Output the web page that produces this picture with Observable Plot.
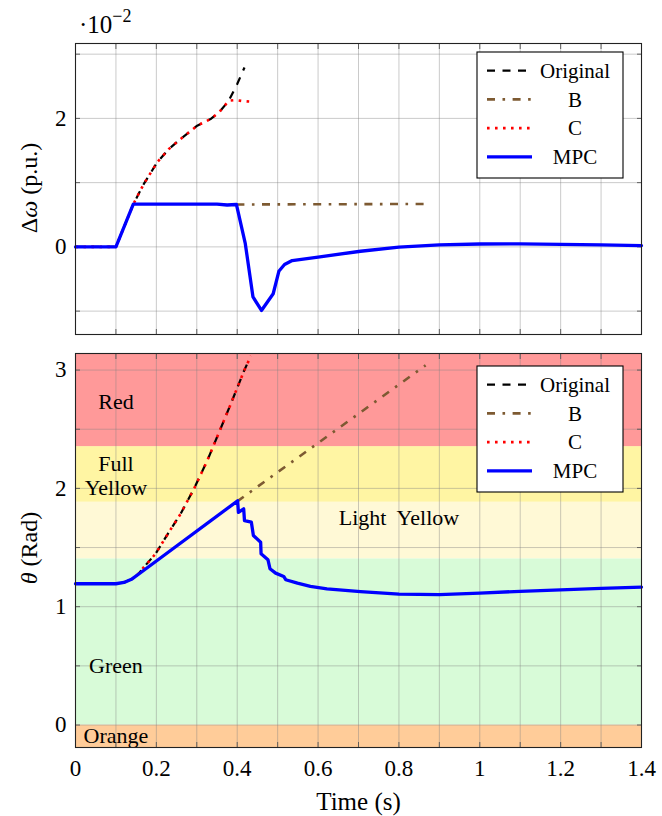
<!DOCTYPE html>
<html>
<head>
<meta charset="utf-8">
<script src="https://cdn.jsdelivr.net/npm/d3@7"></script>
<script src="https://cdn.jsdelivr.net/npm/@observablehq/plot@0.6"></script>
<style>
  html, body { margin: 0; padding: 0; background: white; }
  #chart { position: relative; width: 662px; }
  #chart svg { display: block; }
  #chart svg, #chart svg text, #chart svg tspan { font-family: "Liberation Serif", "Times New Roman", "DejaVu Serif", serif !important; }
</style>
</head>
<body>
<div id="chart"></div>
<script>
// ---------- Data ----------
// Top panel: Δω in units of 1e-2 p.u.
const mpcTopT = [0, 0.1, 0.143, 0.2, 0.3, 0.35, 0.375, 0.398, 0.42, 0.439, 0.46, 0.489, 0.503, 0.517, 0.536, 0.6, 0.705, 0.8, 0.9, 1.0, 1.1, 1.2, 1.3, 1.4];
const mpcTopV = [0, 0, 0.665, 0.665, 0.665, 0.665, 0.652, 0.66, 0.05, -0.78, -0.99, -0.73, -0.38, -0.275, -0.213, -0.16, -0.068, -0.005, 0.03, 0.045, 0.047, 0.04, 0.03, 0.02];
const origTopT = [0, 0.1, 0.143, 0.169, 0.202, 0.231, 0.26, 0.301, 0.334, 0.355, 0.379, 0.4, 0.418];
const origTopV = [0, 0, 0.665, 0.98, 1.316, 1.524, 1.68, 1.886, 1.99, 2.093, 2.275, 2.535, 2.793];
const cTopT = [0, 0.1, 0.143, 0.169, 0.202, 0.231, 0.26, 0.301, 0.334, 0.355, 0.379, 0.396, 0.413, 0.434];
const cTopV = [0, 0, 0.665, 0.98, 1.316, 1.524, 1.68, 1.886, 1.99, 2.093, 2.275, 2.286, 2.27, 2.26];
const bTopT = [0.398, 0.878];
const bTopV = [0.66, 0.668];

// Bottom panel: θ (rad)
const mpcBotT = [0, 0.1, 0.12, 0.14, 0.16, 0.401, 0.403, 0.416, 0.418, 0.435, 0.44, 0.458, 0.459, 0.476, 0.481, 0.495, 0.515, 0.52, 0.549, 0.581, 0.622, 0.705, 0.8, 0.9, 1.0, 1.1, 1.2, 1.3, 1.4];
const mpcBotV = [1.194, 1.194, 1.205, 1.235, 1.285, 1.895, 1.798, 1.827, 1.728, 1.714, 1.602, 1.545, 1.447, 1.397, 1.321, 1.284, 1.256, 1.228, 1.199, 1.171, 1.15, 1.128, 1.106, 1.102, 1.115, 1.13, 1.143, 1.155, 1.166];
const origBotT = [0, 0.1, 0.12, 0.14, 0.155, 0.169, 0.198, 0.231, 0.26, 0.293, 0.326, 0.355, 0.384, 0.417, 0.431];
const origBotV = [1.194, 1.194, 1.205, 1.235, 1.275, 1.334, 1.447, 1.63, 1.785, 1.996, 2.235, 2.473, 2.713, 2.994, 3.101];
const cBotT = [0, 0.1, 0.12, 0.14, 0.155, 0.169, 0.198, 0.231, 0.26, 0.293, 0.326, 0.355, 0.384, 0.417, 0.434];
const cBotV = [1.194, 1.194, 1.205, 1.235, 1.275, 1.334, 1.447, 1.63, 1.785, 1.996, 2.235, 2.473, 2.713, 2.994, 3.12];
const bBotT = [0.4, 0.866];
const bBotV = [1.89, 3.04];

// Stability bands (bottom panel)
const bandNames  = ["Orange", "Green", "Light Yellow", "Full Yellow", "Red"];
const bandLow    = [-0.19, 0, 1.405, 1.883, 2.353];
const bandHigh   = [0, 1.405, 1.883, 2.353, 3.14];
const bandColors = ["#ffcc99", "#d8fbd8", "#fff9d6", "#fff5a3", "#ff9999"];
const bandLabelText = ["Orange", "Green", "Light  Yellow", "Full\nYellow", "Red"];
const bandLabelX = [0.1, 0.1, 0.8, 0.1, 0.1];
const bandLabelY = [-0.086, 0.505, 1.754, 2.112, 2.733];

// Ticks
const xGrid = [0, 0.1, 0.2, 0.3, 0.4, 0.5, 0.6, 0.7, 0.8, 0.9, 1.0, 1.1, 1.2, 1.3, 1.4];
const xTicks = [0, 0.2, 0.4, 0.6, 0.8, 1.0, 1.2, 1.4];
const xTickLabels = ["0", "0.2", "0.4", "0.6", "0.8", "1", "1.2", "1.4"];
const topYGrid = [-1, 0, 1, 2, 3];
const topYTicks = [0, 2];
const botYGrid = [0, 0.5, 1, 1.5, 2, 2.5, 3];
const botYTicks = [0, 1, 2, 3];

// Series styles
const seriesNames = ["Original", "B", "C", "MPC"];
const seriesColors = ["#000000", "#7d5a32", "#ff0000", "#0000ff"];
const seriesWidths = [2.2, 2.6, 2.6, 3.3];
const seriesDash = ["8,7.5", "8,7.5,2.6,7.5", "2.6,5.4", null];

const FONT = "'Liberation Serif', 'Times New Roman', serif";
const idx = a => a.map((_, i) => i);

function lineMark(T, V, s) {
  return Plot.line(idx(T), {
    x: i => T[i], y: i => V[i],
    stroke: seriesColors[s], strokeWidth: seriesWidths[s],
    strokeDasharray: seriesDash[s] || undefined,
    strokeLinejoin: "round", strokeLinecap: seriesDash[s] ? "butt" : "round",
    curve: "linear"
  });
}

function frameTicks(xg, yg) {
  const st = {stroke: "#555", strokeWidth: 0.9, fill: "none", tickSize: 5};
  return [
    Plot.axisX(xg, {...st, anchor: "bottom", dy: -5}),
    Plot.axisX(xg, {...st, anchor: "top", dy: 5}),
    Plot.axisY(yg, {...st, anchor: "left", dx: 5}),
    Plot.axisY(yg, {...st, anchor: "right", dx: -5})
  ];
}

// ---------- Top panel ----------
const topPlot = Plot.plot({
  width: 662, height: 344,
  marginLeft: 75, marginRight: 21, marginTop: 43, marginBottom: 10,
  x: {domain: [0, 1.4]},
  y: {domain: [-1.364, 3.166]},
  style: {fontFamily: FONT, background: "white", overflow: "visible"},
  marks: [
    Plot.gridX(xGrid, {stroke: "#808080", strokeOpacity: 0.42, strokeWidth: 1}),
    Plot.gridY(topYGrid, {stroke: "#808080", strokeOpacity: 0.42, strokeWidth: 1}),
    ...frameTicks(xGrid, topYGrid),
    lineMark(origTopT, origTopV, 0),
    lineMark(cTopT, cTopV, 2),
    lineMark(bTopT, bTopV, 1),
    lineMark(mpcTopT, mpcTopV, 3),
    Plot.text(topYTicks, {y: d => d, text: d => String(d), frameAnchor: "left", dx: -9, textAnchor: "end", fontSize: 23, lineAnchor: "middle"}),
    Plot.frame({stroke: "#222", strokeWidth: 1.1})
  ]
});

// ---------- Bottom panel ----------
const botPlot = Plot.plot({
  width: 662, height: 472,
  marginLeft: 75, marginRight: 21, marginTop: 9, marginBottom: 69,
  x: {domain: [0, 1.4]},
  y: {domain: [-0.19, 3.14]},
  color: {type: "identity"},
  style: {fontFamily: FONT, background: "white", overflow: "visible"},
  marks: [
    Plot.rect(idx(bandNames), {y1: i => bandLow[i], y2: i => bandHigh[i], fill: i => bandColors[i]}),
    Plot.gridX(xGrid, {stroke: "#808080", strokeOpacity: 0.42, strokeWidth: 1}),
    Plot.gridY(botYGrid, {stroke: "#808080", strokeOpacity: 0.42, strokeWidth: 1}),
    ...frameTicks(xGrid, botYGrid),
    Plot.text(idx(bandNames), {x: i => bandLabelX[i], y: i => bandLabelY[i], text: i => bandLabelText[i], fontSize: 22, fill: "black", lineHeight: 1.1}),
    lineMark(origBotT, origBotV, 0),
    lineMark(cBotT, cBotV, 2),
    lineMark(bBotT, bBotV, 1),
    lineMark(mpcBotT, mpcBotV, 3),
    Plot.text(botYTicks, {y: d => d, text: d => String(d), frameAnchor: "left", dx: -9, textAnchor: "end", fontSize: 23, lineAnchor: "middle"}),
    Plot.text(xTicks, {x: d => d, text: (d, i) => xTickLabels[i], frameAnchor: "bottom", dy: 21, fontSize: 23, lineAnchor: "middle"}),
    Plot.text(["Time (s)"], {frameAnchor: "bottom", dy: 54, fontSize: 25, lineAnchor: "middle"}),
    Plot.frame({stroke: "#222", strokeWidth: 1.1})
  ]
});

// ---------- Decorations: axis labels with italic symbols, exponent, legends ----------
function yLabel(svg, cx, cy, sym, pre, rest, size) {
  const t = d3.select(svg).append("text")
    .attr("transform", `translate(${cx},${cy}) rotate(-90)`)
    .attr("text-anchor", "middle").attr("dy", "0.35em")
    .attr("font-size", size).attr("fill", "black");
  if (pre) t.append("tspan").text(pre);
  t.append("tspan").attr("font-style", "italic").text(sym);
  t.append("tspan").text(rest);
}
yLabel(topPlot, 29, 188, "ω", "Δ", " (p.u.)", 24);
yLabel(botPlot, 29, 204, "θ", "", " (Rad)", 24);

const ex = d3.select(topPlot).append("text")
  .attr("x", 79).attr("y", 33).attr("text-anchor", "start")
  .attr("font-size", 25).attr("fill", "black");
ex.append("tspan").text("·10");
ex.append("tspan").attr("font-size", 18).attr("dy", -11).text("−2");

function legend(svg, x0, y0) {
  const g = d3.select(svg).append("g");
  g.append("rect").attr("x", x0).attr("y", y0).attr("width", 146).attr("height", 126)
    .attr("fill", "white").attr("stroke", "black").attr("stroke-width", 1.1);
  seriesNames.forEach((name, i) => {
    const cy = y0 + 18.7 + i * 28.7;
    const ln = g.append("line").attr("x1", x0 + 10).attr("x2", x0 + 55).attr("y1", cy).attr("y2", cy)
      .attr("stroke", seriesColors[i]).attr("stroke-width", seriesWidths[i]);
    if (seriesDash[i]) ln.attr("stroke-dasharray", seriesDash[i]);
    g.append("text").attr("x", x0 + 98).attr("y", cy).attr("dy", "0.35em")
      .attr("text-anchor", "middle").attr("font-size", 21).attr("fill", "black")
      .text(name);
  });
}
legend(topPlot, 477, 52);
legend(botPlot, 477, 22);

const chart = document.getElementById("chart");
chart.appendChild(topPlot);
chart.appendChild(botPlot);
</script>
</body>
</html>
